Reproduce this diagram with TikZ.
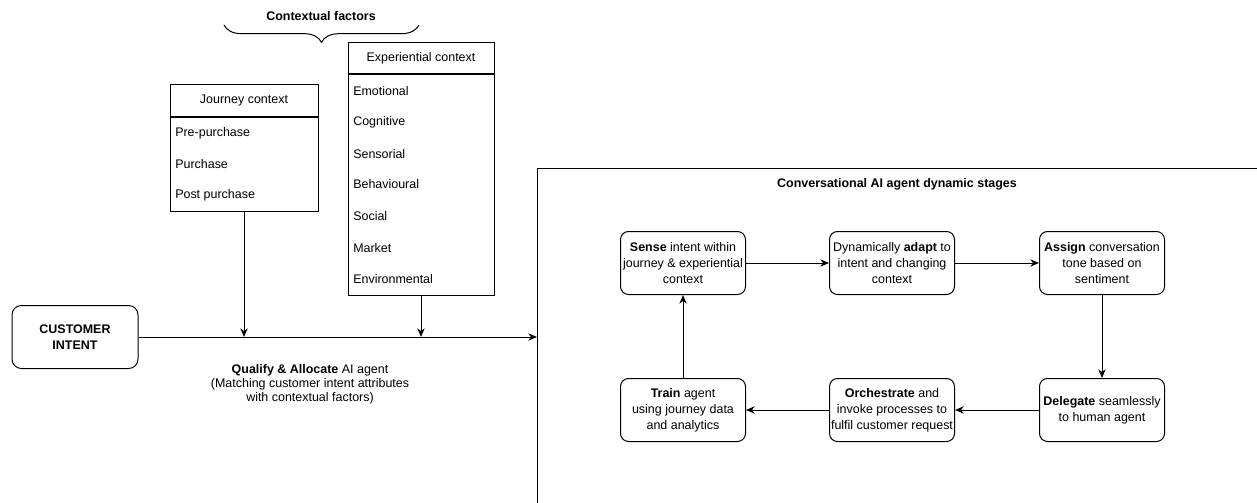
\documentclass[tikz,border=0pt]{standalone}
\usepackage{fontspec}
\setmainfont{Liberation Sans}
\usetikzlibrary{arrows.meta,decorations.pathreplacing}
\begin{document}
\begin{tikzpicture}[x=0.75pt,y=-0.75pt,
  font=\fontsize{9.35}{12}\selectfont,
  every node/.style={inner sep=0pt},
  stage/.style={draw, line width=0.75pt, rounded corners=6pt, minimum width=93.75pt, minimum height=47.25pt, align=center},
  box/.style={draw, line width=0.75pt, minimum width=#1},
  item/.style={anchor=west},
  arr/.style={line width=0.75pt, -{Stealth[length=6.5pt,width=5.5pt,inset=2pt]}},
  ln/.style={line width=0.75pt}]
\useasboundingbox (0,0) rectangle (1257,503);

% Contextual factors brace
\node (cf) at (321,16) {\textbf{Contextual factors}};
\draw[ln, decorate, decoration={brace, mirror, amplitude=13pt}] (224,25) -- (419,25);

% Journey context
\node[box=111pt, minimum height=24pt] (jhead) at (244,101) {Journey context};
\node[box=111pt, minimum height=69.75pt, anchor=north] (jbody) at (jhead.south) {};
\node[item] (j1) at (175,133) {Pre-purchase};
\node[item] (j2) at (175,164) {Purchase};
\node[item] (j3) at (175,195) {Post purchase};

% Experiential context
\node[box=109.5pt, minimum height=23.25pt] (ehead) at (421,58.5) {Experiential context};
\node[box=109.5pt, minimum height=165pt, anchor=north] (ebody) at (ehead.south) {};
\node[item] (e1) at (353,91) {Emotional};
\node[item] (e2) at (353,122) {Cognitive};
\node[item] (e3) at (353,154) {Sensorial};
\node[item] (e4) at (353,184) {Behavioural};
\node[item] (e5) at (353,216) {Social};
\node[item] (e6) at (353,248) {Market};
\node[item] (e7) at (353,279) {Environmental};

% Customer intent
\node[draw, line width=0.75pt, rounded corners=7pt, minimum width=94.5pt, minimum height=47.25pt, align=center] (cust) at (75,337) {\textbf{CUSTOMER}\\\textbf{INTENT}};

% Big container (extends beyond the page)
\coordinate (bigin) at (537,337);
\draw[ln] (537,503) -- (537,168) -- (1257,168);
\node (bigtitle) at (897,184) {\textbf{Conversational AI agent dynamic stages}};

% Main arrow
\draw[arr] (cust.east) -- (bigin);
\draw[arr] (jbody.south) -- (jbody.south |- cust.east);
\draw[arr] (ebody.south) -- (ebody.south |- cust.east);

\node[align=center, font=\fontsize{9.35}{10.5}\selectfont] (qual) at (310,384) {\textbf{Qualify \& Allocate} AI agent\\(Matching customer intent attributes\\with contextual factors)};

% Stages
\node[stage] (sense) at (683,263) {\textbf{Sense} intent within\\journey \& experiential\\context};
\node[stage] (adapt) at (892,263) {Dynamically \textbf{adapt} to\\intent and changing\\context};
\node[stage] (assign) at (1102,263) {\textbf{Assign} conversation\\tone based on\\sentiment};
\node[stage] (deleg) at (1102,410) {\textbf{Delegate} seamlessly\\to human agent};
\node[stage] (orch) at (892,410) {\textbf{Orchestrate} and\\invoke processes to\\fulfil customer request};
\node[stage] (train) at (683,410) {\textbf{Train} agent\\using journey data\\and analytics};

\draw[arr] (sense) -- (adapt);
\draw[arr] (adapt) -- (assign);
\draw[arr] (assign) -- (deleg);
\draw[arr] (deleg) -- (orch);
\draw[arr] (orch) -- (train);
\draw[arr] (train) -- (sense);
\end{tikzpicture}
\end{document}
